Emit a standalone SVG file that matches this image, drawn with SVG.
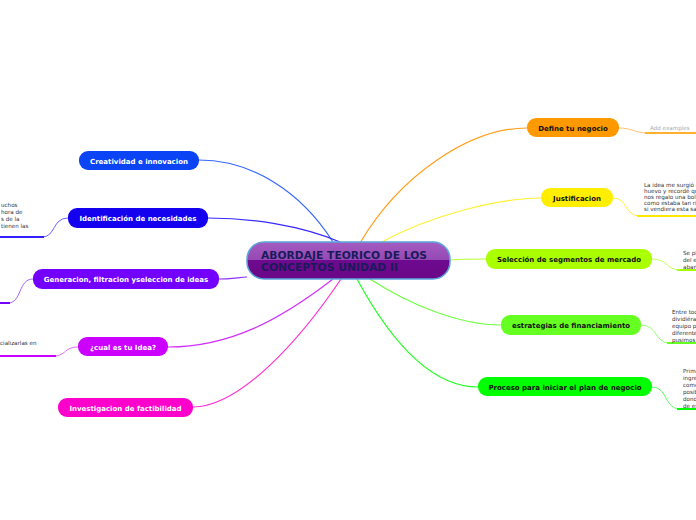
<svg xmlns="http://www.w3.org/2000/svg" width="696" height="520" viewBox="0 0 696 520">
<defs>
<linearGradient id="cg" x1="0" y1="0" x2="0" y2="1">
<stop offset="0" stop-color="#a45cc0"/>
<stop offset="0.5" stop-color="#9448b4"/>
<stop offset="0.5" stop-color="#6e0a8e"/>
<stop offset="1" stop-color="#6a0888"/>
</linearGradient>
</defs>
<style>
.c{fill:none;stroke-width:1.2}
.s{fill:none;stroke-width:1}
.u{fill:none;stroke-width:2}
.n{font-family:"DejaVu Sans",Verdana,sans-serif;font-weight:bold;font-size:7px;text-anchor:middle}
.w{fill:#ffffff}
.k{fill:#111111}
.t{font-family:"DejaVu Sans",Verdana,sans-serif;font-size:5.6px;fill:#333333}
</style>
<rect width="696" height="520" fill="#ffffff"/>
<g id="connectors">
<path class="c" stroke="#ff9f1a" d="M360 243 C400 175 470 128 527 128"/>
<path class="c" stroke="#fff030" d="M380 243 C430 215 500 198 541 198"/>
<path class="c" stroke="#b4ff30" d="M450 260 C465 259 475 259 486 259"/>
<path class="c" stroke="#70ff40" d="M370 279 C410 305 460 325 501 325"/>
<path class="c" stroke="#20ff20" d="M357 279 C390 340 430 387 478 387"/>
<path class="c" stroke="#3366ff" d="M333 242 C300 190 250 160 199 160"/>
<path class="c" stroke="#3a28ff" d="M340 242 C300 225 250 218 208 218"/>
<path class="c" stroke="#8a30ff" d="M247 277 C235 278 228 279 219 279"/>
<path class="c" stroke="#d030ff" d="M333 279 C280 320 230 347 168 347"/>
<path class="c" stroke="#ff30d0" d="M341 279 C300 340 240 407 193 407"/>
<path class="s" stroke="#ffc070" d="M619 128 C632 128 635 133 648 133"/>
<path class="u" stroke="#ffb030" d="M645 133 L696 133"/>
<path class="s" stroke="#ffee40" d="M613 198 C628 198 624 216 640 216"/>
<path class="u" stroke="#ffe800" d="M637 216 L696 216"/>
<path class="s" stroke="#c0ff60" d="M652 259 C668 259 666 270 680 270"/>
<path class="u" stroke="#aaff00" d="M677 270 L696 270"/>
<path class="s" stroke="#90ff70" d="M641 325 C658 325 654 343 670 343"/>
<path class="u" stroke="#66ff22" d="M667 343 L696 343"/>
<path class="s" stroke="#60ff60" d="M652 387 C668 387 664 409 680 409"/>
<path class="u" stroke="#00ff00" d="M677 409 L696 409"/>
<path class="s" stroke="#6a60ff" d="M68 218 C52 218 56 237 42 237"/>
<path class="u" stroke="#3322ff" d="M0 237 L44 237"/>
<path class="s" stroke="#a060ff" d="M33 279 C18 279 22 303 8 303"/>
<path class="u" stroke="#7700ff" d="M0 303 L10 303"/>
<path class="s" stroke="#e070ff" d="M78 347 C64 347 66 356 54 356"/>
<path class="u" stroke="#cc00ff" d="M0 356 L56 356"/>
</g>
<g id="center">
<rect x="247" y="242" width="203" height="37" rx="17" fill="url(#cg)" stroke="#5aa6dc" stroke-width="1.5"/>
<text x="261" y="259" font-family="'DejaVu Sans',Verdana,sans-serif" font-weight="bold" font-size="10.5" fill="#1a1a5a" textLength="166" lengthAdjust="spacingAndGlyphs">ABORDAJE TEORICO DE LOS</text>
<text x="261" y="271" font-family="'DejaVu Sans',Verdana,sans-serif" font-weight="bold" font-size="10.5" fill="#1a1a5a" textLength="137" lengthAdjust="spacingAndGlyphs">CONCEPTOS UNIDAD II</text>
</g>
<g id="define">
<rect x="527" y="118" width="92" height="19" rx="9" fill="#ff9900"/>
<text class="n k" x="573" y="130.5">Define tu negocio</text>
<text class="t" x="650" y="130" style="fill:#aaaaaa">Add examples</text>
</g>
<g id="justificacion">
<rect x="541" y="188" width="72" height="19" rx="9" fill="#ffee00"/>
<text class="n k" x="577" y="200.5">Justificacion</text>
<text class="t" x="644" y="187">La idea me surgió c</text>
<text class="t" x="644" y="193">huevo y recordé qu</text>
<text class="t" x="644" y="199">nos regalo una bol</text>
<text class="t" x="644" y="205">como estaba tan ri</text>
<text class="t" x="644" y="211">si vendiera esta sa</text>
</g>
<g id="seleccion">
<rect x="486" y="249" width="166" height="20" rx="9" fill="#aaff00"/>
<text class="n k" x="569" y="262">Selección de segmentos de mercado</text>
<text class="t" x="683" y="255">Se pl</text>
<text class="t" x="683" y="262">del e</text>
<text class="t" x="683" y="269">aban</text>
</g>
<g id="estrategias">
<rect x="501" y="315" width="140" height="20" rx="9" fill="#66ff22"/>
<text class="n k" x="571" y="328">estrategias de financiamiento</text>
<text class="t" x="672" y="314">Entre toc</text>
<text class="t" x="672" y="321">dividiéra</text>
<text class="t" x="672" y="328">equipo p</text>
<text class="t" x="672" y="335">diferente</text>
<text class="t" x="672" y="342">pusimos</text>
</g>
<g id="proceso">
<rect x="478" y="377" width="174" height="19" rx="9" fill="#00ff00"/>
<text class="n k" x="565" y="389.5">Proceso para iniciar el plan de negocio</text>
<text class="t" x="683" y="373">Prima</text>
<text class="t" x="683" y="380">ingre</text>
<text class="t" x="683" y="387">come</text>
<text class="t" x="683" y="394">posib</text>
<text class="t" x="683" y="401">dond</text>
<text class="t" x="683" y="408">de es</text>
</g>
<g id="creatividad">
<rect x="79" y="151" width="120" height="19" rx="9" fill="#0a44f5"/>
<text class="n w" x="139" y="163.5">Creatividad e innovacion</text>
</g>
<g id="identificacion">
<rect x="68" y="208" width="140" height="20" rx="9" fill="#1400ee"/>
<text class="n w" x="138" y="221">Identificación de necesidades</text>
<text class="t" x="1" y="207">uchos</text>
<text class="t" x="1" y="214">hora de</text>
<text class="t" x="1" y="221">s de la</text>
<text class="t" x="1" y="228">tienen las</text>
</g>
<g id="generacion">
<rect x="33" y="269" width="186" height="20" rx="9" fill="#7300ff"/>
<text class="n w" x="126" y="282">Generacion, filtracion yseleccion de ideas</text>
</g>
<g id="idea">
<rect x="78" y="337" width="90" height="19" rx="9" fill="#cc00ff"/>
<text class="n w" x="123" y="349.5">¿cual es tu Idea?</text>
<text class="t" x="0" y="345">cializarlas en</text>
</g>
<g id="investigacion">
<rect x="58" y="398" width="135" height="19" rx="9" fill="#ff00cc"/>
<text class="n w" x="125.5" y="410.5">Investigacion de factibilidad</text>
</g>
</svg>
